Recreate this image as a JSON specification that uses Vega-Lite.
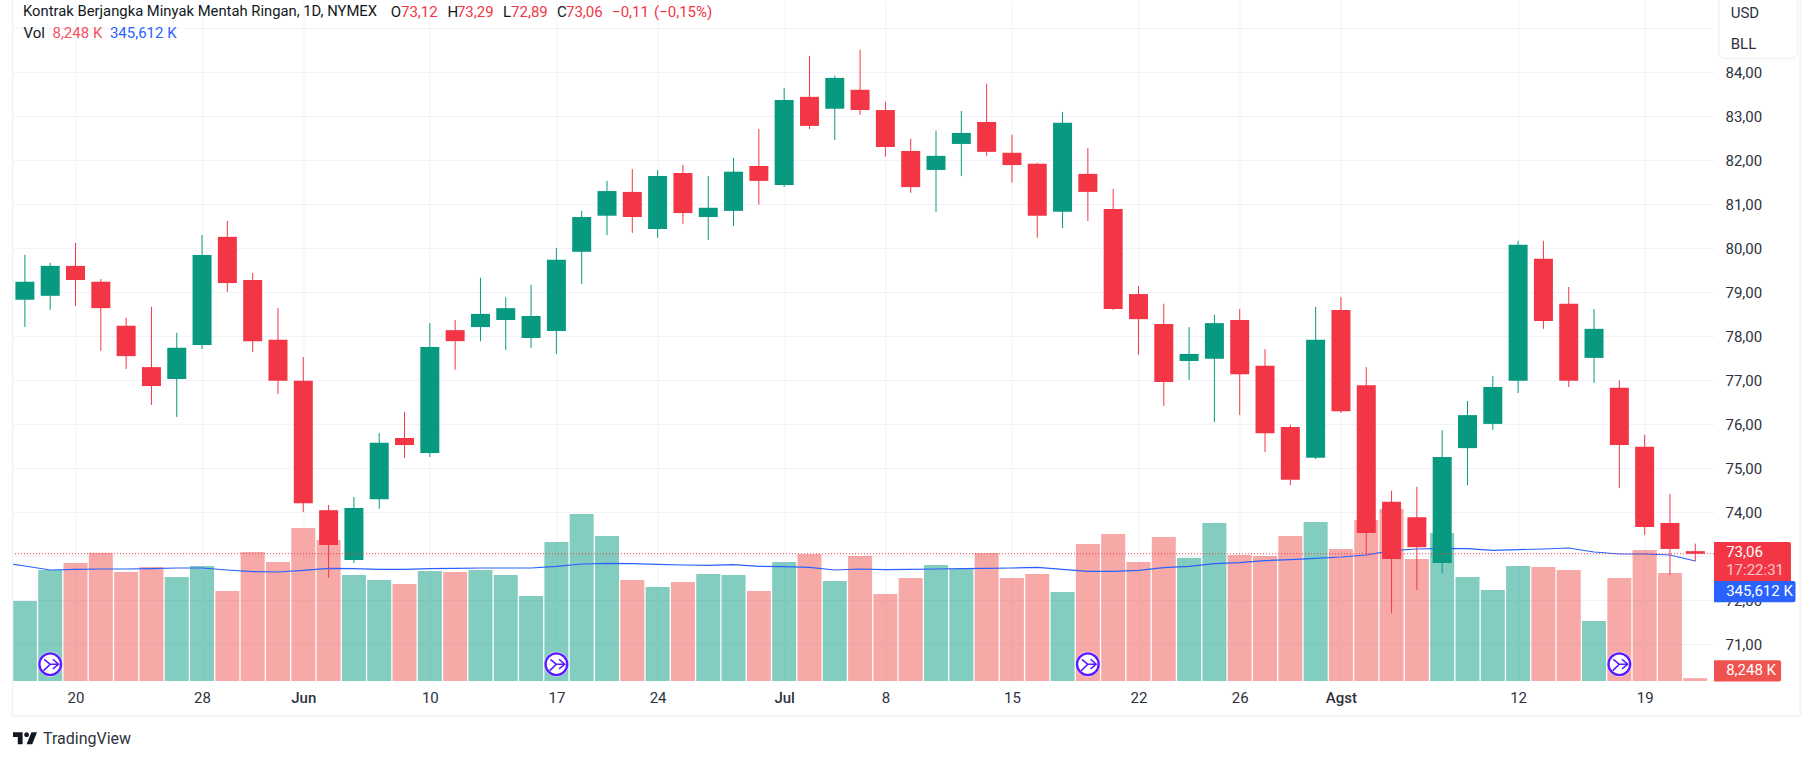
{
  "$schema": "https://vega.github.io/schema/vega-lite/v6.json",
  "width": 1701.5,
  "height": 681,
  "autosize": {"type": "none"},
  "padding": {"left": 12.5, "top": 0, "right": 100, "bottom": 79},
  "background": "white",
  "config": {
    "view": {"stroke": null},
    "text": {"font": "Roboto", "fontSize": 15, "align": "left", "baseline": "middle", "color": "#131722"}
  },
  "datasets": {
    "bars": [
      {"bar":-1,"ma":341.8},
      {"bar":0,"date":"2024-05-16","open":78.83,"high":79.85,"low":78.21,"close":79.24,"vol":230.4,"ma":331.2},
      {"bar":1,"date":"2024-05-17","open":78.92,"high":79.67,"low":78.6,"close":79.6,"vol":319.7,"ma":319.7},
      {"bar":2,"date":"2024-05-20","open":79.6,"high":80.12,"low":78.69,"close":79.28,"vol":339.8,"ma":321.6},
      {"bar":3,"date":"2024-05-21","open":79.24,"high":79.3,"low":77.67,"close":78.64,"vol":369.6,"ma":322.6},
      {"bar":4,"date":"2024-05-22","open":78.24,"high":78.42,"low":77.26,"close":77.55,"vol":313.9,"ma":322.6},
      {"bar":5,"date":"2024-05-23","open":77.3,"high":78.67,"low":76.44,"close":76.87,"vol":328.3,"ma":323.5},
      {"bar":6,"date":"2024-05-24","open":77.03,"high":78.08,"low":76.17,"close":77.74,"vol":299.5,"ma":325.4},
      {"bar":7,"date":"2024-05-28","open":77.8,"high":80.3,"low":77.71,"close":79.85,"vol":331.2,"ma":325.4},
      {"bar":8,"date":"2024-05-29","open":80.26,"high":80.62,"low":79.01,"close":79.21,"vol":259.2,"ma":319.7},
      {"bar":9,"date":"2024-05-30","open":79.28,"high":79.44,"low":77.64,"close":77.89,"vol":371.5,"ma":314.9},
      {"bar":10,"date":"2024-05-31","open":77.92,"high":78.64,"low":76.69,"close":76.99,"vol":342.7,"ma":313.9},
      {"bar":11,"date":"2024-06-03","open":76.99,"high":77.53,"low":74.01,"close":74.21,"vol":440.6,"ma":318.7},
      {"bar":12,"date":"2024-06-04","open":74.05,"high":74.17,"low":72.51,"close":73.26,"vol":406.1,"ma":324.5},
      {"bar":13,"date":"2024-06-05","open":72.92,"high":74.35,"low":72.85,"close":74.1,"vol":305.3,"ma":323.5},
      {"bar":14,"date":"2024-06-06","open":74.3,"high":75.8,"low":74.08,"close":75.58,"vol":290.9,"ma":321.6},
      {"bar":15,"date":"2024-06-07","open":75.69,"high":76.28,"low":75.24,"close":75.53,"vol":279.4,"ma":321.6},
      {"bar":16,"date":"2024-06-10","open":75.35,"high":78.3,"low":75.26,"close":77.76,"vol":316.8,"ma":323.5},
      {"bar":17,"date":"2024-06-11","open":78.14,"high":78.37,"low":77.24,"close":77.89,"vol":313.9,"ma":324.5},
      {"bar":18,"date":"2024-06-12","open":78.21,"high":79.33,"low":77.89,"close":78.51,"vol":319.7,"ma":325.4},
      {"bar":19,"date":"2024-06-13","open":78.37,"high":78.89,"low":77.69,"close":78.64,"vol":305.3,"ma":325.4},
      {"bar":20,"date":"2024-06-14","open":77.96,"high":79.17,"low":77.74,"close":78.46,"vol":244.8,"ma":325.4},
      {"bar":21,"date":"2024-06-17","open":78.12,"high":80.01,"low":77.6,"close":79.74,"vol":400.3,"ma":330.2},
      {"bar":22,"date":"2024-06-18","open":79.92,"high":80.85,"low":79.19,"close":80.71,"vol":481,"ma":337},
      {"bar":23,"date":"2024-06-20","open":80.74,"high":81.53,"low":80.3,"close":81.3,"vol":417.6,"ma":338.9},
      {"bar":24,"date":"2024-06-21","open":81.28,"high":81.8,"low":80.35,"close":80.71,"vol":290.9,"ma":337.9},
      {"bar":25,"date":"2024-06-24","open":80.44,"high":81.78,"low":80.24,"close":81.64,"vol":270.7,"ma":336},
      {"bar":26,"date":"2024-06-25","open":81.71,"high":81.89,"low":80.55,"close":80.8,"vol":285.1,"ma":334.1},
      {"bar":27,"date":"2024-06-26","open":80.71,"high":81.64,"low":80.19,"close":80.92,"vol":308.2,"ma":333.1},
      {"bar":28,"date":"2024-06-27","open":80.85,"high":82.05,"low":80.51,"close":81.74,"vol":305.3,"ma":335},
      {"bar":29,"date":"2024-06-28","open":81.87,"high":82.71,"low":80.99,"close":81.53,"vol":259.2,"ma":330.2},
      {"bar":30,"date":"2024-07-01","open":81.44,"high":83.64,"low":81.39,"close":83.37,"vol":342.7,"ma":329.3},
      {"bar":31,"date":"2024-07-02","open":83.44,"high":84.37,"low":82.71,"close":82.78,"vol":365.8,"ma":327.4},
      {"bar":32,"date":"2024-07-03","open":83.17,"high":83.92,"low":82.46,"close":83.87,"vol":288,"ma":319.7},
      {"bar":33,"date":"2024-07-05","open":83.6,"high":84.51,"low":83.03,"close":83.14,"vol":360,"ma":322.6},
      {"bar":34,"date":"2024-07-08","open":83.14,"high":83.33,"low":82.08,"close":82.3,"vol":250.6,"ma":320.6},
      {"bar":35,"date":"2024-07-09","open":82.21,"high":82.49,"low":81.26,"close":81.39,"vol":296.6,"ma":321.6},
      {"bar":36,"date":"2024-07-10","open":81.78,"high":82.67,"low":80.83,"close":82.1,"vol":334.1,"ma":322.6},
      {"bar":37,"date":"2024-07-11","open":82.37,"high":83.12,"low":81.64,"close":82.62,"vol":322.6,"ma":323.5},
      {"bar":38,"date":"2024-07-12","open":82.87,"high":83.74,"low":82.1,"close":82.19,"vol":368.6,"ma":324.5},
      {"bar":39,"date":"2024-07-15","open":82.17,"high":82.58,"low":81.49,"close":81.89,"vol":296.6,"ma":325.4},
      {"bar":40,"date":"2024-07-16","open":81.92,"high":81.94,"low":80.24,"close":80.74,"vol":308.2,"ma":327.4},
      {"bar":41,"date":"2024-07-17","open":80.83,"high":83.1,"low":80.46,"close":82.85,"vol":256.3,"ma":321.6},
      {"bar":42,"date":"2024-07-18","open":81.69,"high":82.28,"low":80.62,"close":81.28,"vol":394.6,"ma":315.8},
      {"bar":43,"date":"2024-07-19","open":80.89,"high":81.35,"low":78.6,"close":78.62,"vol":423.4,"ma":315.8},
      {"bar":44,"date":"2024-07-22","open":78.96,"high":79.14,"low":77.58,"close":78.39,"vol":342.7,"ma":318.7},
      {"bar":45,"date":"2024-07-23","open":78.28,"high":78.74,"low":76.42,"close":76.96,"vol":414.7,"ma":326.4},
      {"bar":46,"date":"2024-07-24","open":77.44,"high":78.21,"low":77.01,"close":77.6,"vol":354.2,"ma":330.2},
      {"bar":47,"date":"2024-07-25","open":77.49,"high":78.49,"low":76.05,"close":78.3,"vol":455,"ma":337.9},
      {"bar":48,"date":"2024-07-26","open":78.37,"high":78.62,"low":76.21,"close":77.14,"vol":362.9,"ma":340.8},
      {"bar":49,"date":"2024-07-29","open":77.33,"high":77.71,"low":75.37,"close":75.8,"vol":360,"ma":346.6},
      {"bar":50,"date":"2024-07-30","open":75.94,"high":75.99,"low":74.62,"close":74.74,"vol":417.6,"ma":349.4},
      {"bar":51,"date":"2024-07-31","open":75.24,"high":78.67,"low":75.21,"close":77.92,"vol":457.9,"ma":353.3},
      {"bar":52,"date":"2024-08-01","open":78.6,"high":78.89,"low":76.26,"close":76.3,"vol":380.2,"ma":357.1},
      {"bar":53,"date":"2024-08-02","open":76.89,"high":77.3,"low":73.03,"close":73.53,"vol":463.7,"ma":362.9},
      {"bar":54,"date":"2024-08-05","open":74.24,"high":74.49,"low":71.71,"close":72.94,"vol":495.4,"ma":375.4},
      {"bar":55,"date":"2024-08-06","open":73.89,"high":74.58,"low":72.24,"close":73.21,"vol":351.4,"ma":380.2},
      {"bar":56,"date":"2024-08-07","open":72.85,"high":75.87,"low":72.62,"close":75.26,"vol":426.2,"ma":382.1},
      {"bar":57,"date":"2024-08-08","open":75.46,"high":76.53,"low":74.62,"close":76.21,"vol":299.5,"ma":381.1},
      {"bar":58,"date":"2024-08-09","open":76.01,"high":77.1,"low":75.87,"close":76.85,"vol":262.1,"ma":376.3},
      {"bar":59,"date":"2024-08-12","open":76.99,"high":80.17,"low":76.71,"close":80.08,"vol":331.2,"ma":378.2},
      {"bar":60,"date":"2024-08-13","open":79.76,"high":80.17,"low":78.17,"close":78.35,"vol":328.3,"ma":380.2},
      {"bar":61,"date":"2024-08-14","open":78.74,"high":79.12,"low":76.85,"close":76.99,"vol":319.7,"ma":383},
      {"bar":62,"date":"2024-08-15","open":77.51,"high":78.62,"low":76.94,"close":78.17,"vol":172.8,"ma":371.5},
      {"bar":63,"date":"2024-08-16","open":76.83,"high":77,"low":74.55,"close":75.53,"vol":296.6,"ma":365.8},
      {"bar":64,"date":"2024-08-19","open":75.49,"high":75.76,"low":73.49,"close":73.67,"vol":377.3,"ma":365.8},
      {"bar":65,"date":"2024-08-20","open":73.76,"high":74.42,"low":72.58,"close":73.17,"vol":311,"ma":362.9},
      {"bar":66,"date":"2024-08-21","open":73.12,"high":73.29,"low":72.89,"close":73.06,"vol":8.248,"ma":345.612}
    ],
    "events": [{"bar":1},{"bar":21},{"bar":42},{"bar":63}],
    "one": [{"n":1}]
  },
  "layer": [
    {
      "data": {"name": "bars"},
      "layer": [
        {
          "mark": {"type": "rule", "strokeWidth": 0},
          "encoding": {
            "x": {
              "field": "bar", "type": "quantitative", "title": null,
              "scale": {"domain": [-0.49, 66.74], "nice": false, "zero": false, "padding": 0},
              "axis": {
                "values": [2, 7, 11, 16, 21, 25, 30, 34, 39, 44, 48, 52, 59, 64],
                "labelExpr": "{'2':'20','7':'28','11':'Jun','16':'10','21':'17','25':'24','30':'Jul','34':'8','39':'15','44':'22','48':'26','52':'Agst','59':'12','64':'19'}[datum.value]",
                "labelFont": "Roboto", "labelFontSize": 15, "labelColor": "#2E3240", "labelPadding": 9,
                "labelFontWeight": {"condition": {"test": "datum.value == 11 || datum.value == 30 || datum.value == 52", "value": 500}, "value": 400},
                "labelBound": false, "labelFlush": false, "labelOverlap": false,
                "domain": false, "ticks": false, "grid": true, "gridColor": "#F0F3FA", "gridWidth": 1
              }
            }
          }
        },
        {
          "mark": {"type": "bar", "orient": "vertical", "size": 24, "opacity": 0.5},
          "encoding": {
            "x": {"field": "bar", "type": "quantitative"},
            "y": {"field": "vol", "type": "quantitative", "stack": null, "axis": null, "scale": {"domain": [0, 1961.28], "nice": false, "zero": false}},
            "color": {"condition": {"test": "datum.close >= datum.open", "value": "#089981"}, "value": "#EF5350"}
          }
        },
        {
          "mark": {"type": "line", "color": "#2962FF", "strokeWidth": 1.2, "clip": true},
          "encoding": {
            "x": {"field": "bar", "type": "quantitative"},
            "y": {"field": "ma", "type": "quantitative", "axis": null}
          }
        }
      ]
    },
    {
      "layer": [
        {
          "data": {"name": "bars"},
          "layer": [
            {
              "mark": {"type": "rule", "strokeWidth": 1},
              "encoding": {
                "x": {"field": "bar", "type": "quantitative"},
                "y": {
                  "field": "low", "type": "quantitative", "title": null,
                  "scale": {"domain": [70.17, 85.64], "nice": false, "zero": false},
                  "axis": {
                    "orient": "right",
                    "values": [71, 72, 73, 74, 75, 76, 77, 78, 79, 80, 81, 82, 83, 84, 85],
                    "labelExpr": "datum.value == 73 || datum.value == 85 ? '' : replace(format(datum.value, '.2f'), '.', ',')",
                    "labelFont": "Roboto", "labelFontSize": 15, "labelColor": "#2E3240", "labelPadding": 11,
                    "labelBound": false, "labelFlush": false, "labelOverlap": false,
                    "domain": false, "ticks": false, "grid": true, "gridColor": "#F0F3FA", "gridWidth": 1.2
                  }
                },
                "y2": {"field": "high"},
                "color": {"condition": {"test": "datum.close >= datum.open", "value": "#089981"}, "value": "#F23645"}
              }
            },
            {
              "mark": {"type": "bar", "orient": "vertical", "size": 19},
              "encoding": {
                "x": {"field": "bar", "type": "quantitative"},
                "y": {"field": "open", "type": "quantitative"},
                "y2": {"field": "close"},
                "color": {"condition": {"test": "datum.close >= datum.open", "value": "#089981"}, "value": "#F23645"}
              }
            }
          ]
        },
        {
          "data": {"name": "events"},
          "layer": [
            {
              "mark": {"type": "point", "filled": true, "color": "white", "opacity": 1, "size": 616, "shape": "circle"},
              "encoding": {"x": {"field": "bar", "type": "quantitative"}, "y": {"datum": 70.55}}
            },
            {
              "mark": {"type": "point", "filled": false, "stroke": "#5B1CFF", "strokeWidth": 2.4, "opacity": 1, "size": 471, "shape": "circle"},
              "encoding": {"x": {"field": "bar", "type": "quantitative"}, "y": {"datum": 70.55}}
            },
            {
              "mark": {"type": "point", "filled": false, "stroke": "#5B1CFF", "strokeWidth": 1.6, "opacity": 1, "size": 400, "shape": "M-0.6 -0.5L0 0L-0.67 0.63M0 0L0.83 0M0.27 -0.5L0.83 0L0.27 0.45"},
              "encoding": {"x": {"field": "bar", "type": "quantitative"}, "y": {"datum": 70.55}}
            }
          ]
        },
        {
          "data": {"name": "one"},
          "layer": [
            {"mark": {"type": "rule", "color": "#F23645", "strokeWidth": 1, "strokeDash": [1, 2]}, "encoding": {"y": {"datum": 73.06}}},
            {"mark": {"type": "rule", "color": "#F0F3FA", "strokeWidth": 1.5}, "encoding": {"x": {"datum": -0.49}, "y": {"datum": 85.64}, "y2": {"datum": 69.37}}},
            {"mark": {"type": "rule", "color": "#F0F3FA", "strokeWidth": 2}, "encoding": {"x": {"datum": -0.49}, "x2": {"datum": 70.15}, "y": {"datum": 69.37}}},
            {"mark": {"type": "rule", "color": "#F0F3FA", "strokeWidth": 2}, "encoding": {"x": {"datum": 70.15}, "y": {"datum": 85.64}, "y2": {"datum": 69.37}}},
            {"mark": {"type": "rect", "color": "#F23645", "cornerRadiusTopRight": 2}, "encoding": {"x": {"datum": 66.74}, "x2": {"datum": 69.78}, "y": {"datum": 73.325}, "y2": {"datum": 72.44}}},
            {"mark": {"type": "rect", "color": "#2962FF", "cornerRadiusTopRight": 2, "cornerRadiusBottomRight": 2}, "encoding": {"x": {"datum": 66.74}, "x2": {"datum": 69.96}, "y": {"datum": 72.44}, "y2": {"datum": 71.96}}},
            {"mark": {"type": "rect", "color": "#EF5350", "cornerRadiusTopRight": 2, "cornerRadiusBottomRight": 2}, "encoding": {"x": {"datum": 66.74}, "x2": {"datum": 69.39}, "y": {"datum": 70.64}, "y2": {"datum": 70.16}}},
            {"mark": {"type": "rect", "fill": "white", "stroke": "#F0F3FA", "strokeWidth": 1.5, "cornerRadius": 6}, "encoding": {"x": {"datum": 66.93}, "x2": {"datum": 70.04}, "y": {"datum": 85.8}, "y2": {"datum": 84.31}}},
            {"mark": {"type": "text", "color": "#2E3240"}, "encoding": {"x": {"datum": 67.4}, "y": {"datum": 85.35}, "text": {"value": "USD"}}},
            {"mark": {"type": "text", "color": "#2E3240"}, "encoding": {"x": {"datum": 67.4}, "y": {"datum": 84.64}, "text": {"value": "BLL"}}},
            {"mark": {"type": "text", "color": "white"}, "encoding": {"x": {"datum": 67.22}, "y": {"datum": 73.1}, "text": {"value": "73,06"}}},
            {"mark": {"type": "text", "color": "white", "opacity": 0.7}, "encoding": {"x": {"datum": 67.22}, "y": {"datum": 72.69}, "text": {"value": "17:22:31"}}},
            {"mark": {"type": "text", "color": "white"}, "encoding": {"x": {"datum": 67.22}, "y": {"datum": 72.22}, "text": {"value": "345,612 K"}}},
            {"mark": {"type": "text", "color": "white"}, "encoding": {"x": {"datum": 67.22}, "y": {"datum": 70.42}, "text": {"value": "8,248 K"}}},
            {"mark": {"type": "text", "fontSize": 14.8}, "encoding": {"x": {"datum": -0.075}, "y": {"datum": 85.37}, "text": {"value": "Kontrak Berjangka Minyak Mentah Ringan, 1D, NYMEX"}}},
            {"mark": {"type": "text"}, "encoding": {"x": {"datum": 14.46}, "y": {"datum": 85.37}, "text": {"value": "O"}}},
            {"mark": {"type": "text", "color": "#F23645"}, "encoding": {"x": {"datum": 14.86}, "y": {"datum": 85.37}, "text": {"value": "73,12"}}},
            {"mark": {"type": "text"}, "encoding": {"x": {"datum": 16.7}, "y": {"datum": 85.37}, "text": {"value": "H"}}},
            {"mark": {"type": "text", "color": "#F23645"}, "encoding": {"x": {"datum": 17.07}, "y": {"datum": 85.37}, "text": {"value": "73,29"}}},
            {"mark": {"type": "text"}, "encoding": {"x": {"datum": 18.89}, "y": {"datum": 85.37}, "text": {"value": "L"}}},
            {"mark": {"type": "text", "color": "#F23645"}, "encoding": {"x": {"datum": 19.21}, "y": {"datum": 85.37}, "text": {"value": "72,89"}}},
            {"mark": {"type": "text"}, "encoding": {"x": {"datum": 21.02}, "y": {"datum": 85.37}, "text": {"value": "C"}}},
            {"mark": {"type": "text", "color": "#F23645"}, "encoding": {"x": {"datum": 21.38}, "y": {"datum": 85.37}, "text": {"value": "73,06"}}},
            {"mark": {"type": "text", "color": "#F23645"}, "encoding": {"x": {"datum": 23.2}, "y": {"datum": 85.37}, "text": {"value": "−0,11"}}},
            {"mark": {"type": "text", "color": "#F23645"}, "encoding": {"x": {"datum": 24.86}, "y": {"datum": 85.37}, "text": {"value": "(−0,15%)"}}},
            {"mark": {"type": "text"}, "encoding": {"x": {"datum": -0.055}, "y": {"datum": 84.89}, "text": {"value": "Vol"}}},
            {"mark": {"type": "text", "color": "#F7525F"}, "encoding": {"x": {"datum": 1.09}, "y": {"datum": 84.89}, "text": {"value": "8,248 K"}}},
            {"mark": {"type": "text", "color": "#2962FF"}, "encoding": {"x": {"datum": 3.36}, "y": {"datum": 84.89}, "text": {"value": "345,612 K"}}},
            {"mark": {"type": "point", "filled": true, "color": "#131722", "opacity": 1, "size": 576, "shape": "M-0.2 -0.5H-1V-0.1H-0.6V0.5H-0.2ZM0.6 0.5H0.133L0.533 -0.5H1ZM0.133 -0.1A0.2 0.2 0 1 0 0.133 -0.5A0.2 0.2 0 0 0 0.133 -0.1Z"}, "encoding": {"x": {"datum": 0.004}, "y": {"datum": 68.87}}},
            {"mark": {"type": "text", "fontSize": 16, "color": "#2E3240"}, "encoding": {"x": {"datum": 0.715}, "y": {"datum": 68.85}, "text": {"value": "TradingView"}}}
          ]
        }
      ]
    }
  ],
  "resolve": {"scale": {"y": "independent"}}
}
